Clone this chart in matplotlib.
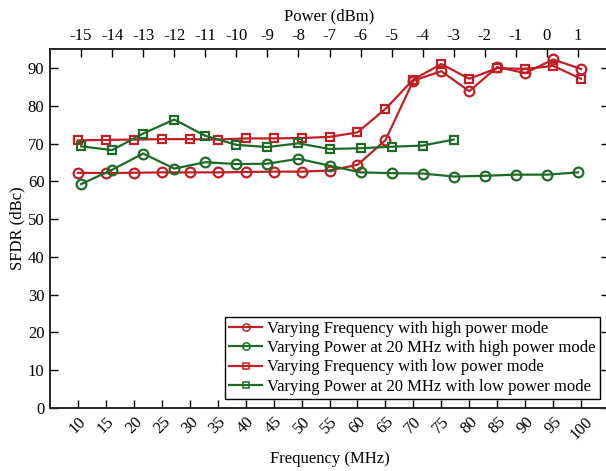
import matplotlib
matplotlib.use('Agg')
import matplotlib.pyplot as plt

plt.rcParams['font.family'] = ['Liberation Serif', 'DejaVu Serif']
plt.rcParams['font.size'] = 12

# frequency sweep (bottom axis)
freq = [10, 15, 20, 25, 30, 35, 40, 45, 50, 55, 60, 65, 70, 75, 80, 85, 90, 95, 100]
sfdr_freq_high = [62.3, 62.2, 62.3, 62.4, 62.4, 62.4, 62.5, 62.6, 62.6, 62.9, 64.4, 70.9,
                  86.7, 89.2, 83.9, 90.3, 88.7, 92.3, 89.8]
sfdr_freq_low = [70.9, 71.0, 71.1, 71.2, 71.2, 71.1, 71.4, 71.4, 71.5, 71.8, 73.0, 79.2,
                 87.0, 91.1, 87.2, 90.0, 89.8, 90.6, 87.2]

# power sweep at 20 MHz (top axis)
power_high = [-15, -14, -13, -12, -11, -10, -9, -8, -7, -6, -5, -4, -3, -2, -1, 0, 1]
sfdr_pow_high = [59.3, 63.1, 67.4, 63.4, 65.1, 64.6, 64.7, 66.0, 64.2, 62.4, 62.2, 62.1,
                 61.3, 61.5, 61.8, 61.8, 62.4]
power_low = [-15, -14, -13, -12, -11, -10, -9, -8, -7, -6, -5, -4, -3]
sfdr_pow_low = [69.3, 68.3, 72.7, 76.4, 72.1, 69.7, 69.1, 70.1, 68.6, 68.8, 69.2, 69.5, 71.1]

red = '#BE2026'
green = '#1E6B28'

fig = plt.figure(figsize=(6.06, 4.71), dpi=100)
ax = fig.add_axes([50 / 606, 63 / 471, 559 / 606, 358.7 / 471])
ax2 = ax.twiny()

l1, = ax.plot(freq, sfdr_freq_high, color=red, lw=1.6, marker='o', ms=7, mfc='none', mew=1.6,
              label='Varying Frequency with high power mode')
l3, = ax.plot(freq, sfdr_freq_low, color=red, lw=1.6, marker='s', ms=5.2, mfc='none', mew=1.6,
              label='Varying Frequency with low power mode')
l2, = ax2.plot(power_high, sfdr_pow_high, color=green, lw=1.6, marker='o', ms=7, mfc='none', mew=1.6,
               label='Varying Power at 20 MHz with high power mode')
l4, = ax2.plot(power_low, sfdr_pow_low, color=green, lw=1.6, marker='s', ms=5.2, mfc='none', mew=1.6,
               label='Varying Power at 20 MHz with low power mode')

ax.set_xlim(5, 105)
ax.set_ylim(0, 95)
ax2.set_xlim(-16, 2)

ax.set_xticks(freq)
ax.set_xticklabels([str(f) for f in freq], rotation=45, ha='center')
ax.set_yticks(range(0, 91, 10))
ax2.set_xticks(power_high)
ax2.set_xticklabels([str(p) for p in power_high])

ax.tick_params(direction='in', length=6, width=1, right=True, pad=4)
ax2.tick_params(direction='in', length=6, width=1, pad=4)

for a in (ax, ax2):
    for s in a.spines.values():
        s.set_linewidth(1.2)
        s.set_color('#262626')

ax.set_xlabel('Frequency (MHz)', labelpad=6)
ax.set_ylabel('SFDR (dBc)', labelpad=2)
ax2.set_xlabel('Power (dBm)', labelpad=5)

leg = ax2.legend(handles=[l1, l2, l3, l4], loc='lower right', fancybox=False, framealpha=1,
                 edgecolor='black', markerscale=0.75, handlelength=2.0, handletextpad=0.3,
                 labelspacing=0.2, borderpad=0.25, borderaxespad=0.55)
leg.get_frame().set_linewidth(1.0)
for h in leg.legend_handles:
    h.set_markeredgewidth(1.1)

fig.savefig('out.png', dpi=100)
